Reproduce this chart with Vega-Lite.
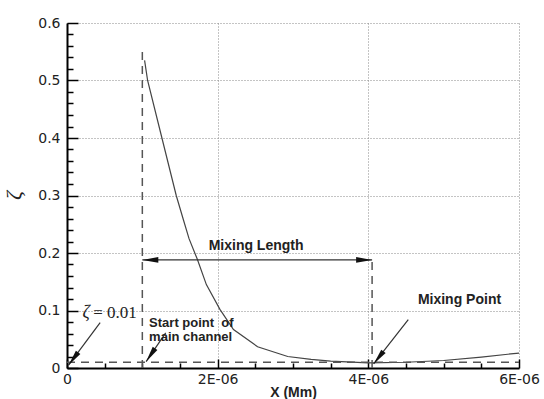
{
  "$schema": "https://vega.github.io/schema/vega-lite/v6.json",
  "width": 452,
  "height": 345,
  "autosize": "none",
  "padding": {"left": 67, "top": 23, "right": 25, "bottom": 31},
  "background": "white",
  "config": {"view": {"stroke": null}},
  "datasets": {
    "curve": [
      {"x": 0.00000103, "y": 0.535},
      {"x": 0.00000107, "y": 0.5},
      {"x": 0.00000126, "y": 0.4},
      {"x": 0.00000145, "y": 0.3},
      {"x": 0.00000154, "y": 0.26},
      {"x": 0.00000162, "y": 0.225},
      {"x": 0.00000173, "y": 0.189},
      {"x": 0.00000185, "y": 0.145},
      {"x": 0.00000203, "y": 0.102},
      {"x": 0.00000221, "y": 0.067},
      {"x": 0.00000253, "y": 0.037},
      {"x": 0.00000293, "y": 0.02},
      {"x": 0.00000324, "y": 0.015},
      {"x": 0.0000035, "y": 0.012},
      {"x": 0.000004, "y": 0.009},
      {"x": 0.0000045, "y": 0.01},
      {"x": 0.000005, "y": 0.013},
      {"x": 0.0000055, "y": 0.019},
      {"x": 0.000006, "y": 0.026}
    ],
    "dashed": [
      {"x": 0.000001, "x2": 0.000001, "y": 0, "y2": 0.55},
      {"x": 0.00000405, "x2": 0.00000405, "y": 0, "y2": 0.19},
      {"x": 0, "x2": 0.000006, "y": 0.01, "y2": 0.01}
    ],
    "arrows": [
      {"x": 0.000001, "x2": 0.00000405, "y": 0.188, "y2": 0.188},
      {"x": 0.00000044, "x2": 0.00000002, "y": 0.079, "y2": 0.005},
      {"x": 0.00000131, "x2": 0.00000105, "y": 0.061, "y2": 0.011},
      {"x": 0.00000453, "x2": 0.00000407, "y": 0.084, "y2": 0.007}
    ],
    "labels": [
      {"label": "Mixing Length", "x": 0.00000251, "y": 0.212},
      {"label": "Mixing Point", "x": 0.00000521, "y": 0.119}
    ],
    "labelsLeft": [
      {"label": "Start point\u00a0 of", "x": 0.00000109, "y": 0.078},
      {"label": "main channel", "x": 0.00000109, "y": 0.054}
    ]
  },
  "layer": [
    {
      "data": {"name": "curve"},
      "mark": {"type": "line", "color": "#444", "strokeWidth": 1.2},
      "encoding": {
        "x": {
          "field": "x", "type": "quantitative",
          "scale": {"domain": [0, 0.000006], "nice": false, "zero": false},
          "axis": {
            "title": "X (Mm)",
            "tickCount": 200,
            "values": [0, 0.0000005, 0.000001, 0.0000015, 0.000002, 0.0000025, 0.000003, 0.0000035, 0.000004, 0.0000045, 0.000005, 0.0000055, 0.000006],
            "labelExpr": "abs(datum.value/2e-6 - round(datum.value/2e-6)) < 1e-3 ? (datum.value == 0 ? '0' : format(datum.value*1e6, '.0f') + 'E-06') : ''",
            "tickSize": {"condition": {"test": "abs(datum.value/2e-6 - round(datum.value/2e-6)) < 1e-3", "value": -9}, "value": -5},
            "gridOpacity": {"condition": {"test": "abs(datum.value/2e-6 - round(datum.value/2e-6)) < 1e-3", "value": 1}, "value": 0},
            "grid": true,
            "gridColor": "#888",
            "gridDash": [1, 2],
            "tickColor": "#000",
            "tickWidth": 1.5,
            "domainColor": "#000",
            "domainWidth": 2,
            "labelFont": "DejaVu Sans",
            "labelFontSize": 14,
            "labelColor": "#222",
            "labelPadding": 13,
            "labelFlush": false,
            "labelOverlap": false,
            "titleFont": "Liberation Sans",
            "titleFontWeight": "bold",
            "titleFontSize": 14,
            "titleColor": "#222",
            "titleY": 28,
            "titleBaseline": "alphabetic"
          }
        },
        "y": {
          "field": "y", "type": "quantitative",
          "scale": {"domain": [0, 0.6], "nice": false, "zero": false},
          "axis": {
            "title": "ζ",
            "tickCount": 200,
            "values": [0, 0.02, 0.04, 0.06, 0.08, 0.1, 0.12, 0.14, 0.16, 0.18, 0.2, 0.22, 0.24, 0.26, 0.28, 0.3, 0.32, 0.34, 0.36, 0.38, 0.4, 0.42, 0.44, 0.46, 0.48, 0.5, 0.52, 0.54, 0.56, 0.58, 0.6],
            "labelExpr": "abs(datum.value*10 - round(datum.value*10)) < 1e-3 ? format(datum.value, '.1~f') : ''",
            "tickSize": {"condition": {"test": "abs(datum.value*10 - round(datum.value*10)) < 1e-3", "value": -11}, "value": -6},
            "gridOpacity": {"condition": {"test": "abs(datum.value*10 - round(datum.value*10)) < 1e-3", "value": 1}, "value": 0},
            "grid": true,
            "gridColor": "#888",
            "gridDash": [1, 2],
            "tickColor": "#000",
            "tickWidth": 1.5,
            "domainColor": "#000",
            "domainWidth": 2,
            "labelFont": "DejaVu Sans",
            "labelFontSize": 14,
            "labelColor": "#222",
            "labelPadding": 18,
            "labelFlush": false,
            "labelOverlap": false,
            "titleFont": "Liberation Serif",
            "titleFontStyle": "italic",
            "titleFontWeight": "normal",
            "titleFontSize": 22,
            "titleColor": "#222",
            "titleX": -54,
            "titleY": 172,
            "titleAngle": 270,
            "titleAlign": "center",
            "titleBaseline": "middle"
          }
        }
      }
    },
    {
      "data": {"name": "dashed"},
      "mark": {"type": "rule", "color": "#555", "strokeWidth": 1.5, "strokeDash": [8, 6]},
      "encoding": {
        "x": {"field": "x", "type": "quantitative"},
        "x2": {"field": "x2"},
        "y": {"field": "y", "type": "quantitative"},
        "y2": {"field": "y2"}
      }
    },
    {
      "data": {"name": "arrows"},
      "mark": {"type": "rule", "color": "#333", "strokeWidth": 1.2},
      "encoding": {
        "x": {"field": "x", "type": "quantitative"},
        "x2": {"field": "x2"},
        "y": {"field": "y", "type": "quantitative"},
        "y2": {"field": "y2"}
      }
    },
    {
      "data": {"values": [{"x": 0.00000405, "y": 0.188}]},
      "mark": {"type": "point", "shape": "M0,0L0.35,2L-0.35,2Z", "filled": true, "color": "#111", "opacity": 1, "size": 256, "angle": 90},
      "encoding": {"x": {"field": "x", "type": "quantitative"}, "y": {"field": "y", "type": "quantitative"}}
    },
    {
      "data": {"values": [{"x": 0.000001, "y": 0.188}]},
      "mark": {"type": "point", "shape": "M0,0L0.35,2L-0.35,2Z", "filled": true, "color": "#111", "opacity": 1, "size": 256, "angle": 270},
      "encoding": {"x": {"field": "x", "type": "quantitative"}, "y": {"field": "y", "type": "quantitative"}}
    },
    {
      "data": {"values": [{"x": 0.00000002, "y": 0.005}]},
      "mark": {"type": "point", "shape": "M0,0L0.35,2L-0.35,2Z", "filled": true, "color": "#111", "opacity": 1, "size": 256, "angle": 217},
      "encoding": {"x": {"field": "x", "type": "quantitative"}, "y": {"field": "y", "type": "quantitative"}}
    },
    {
      "data": {"values": [{"x": 0.00000105, "y": 0.011}]},
      "mark": {"type": "point", "shape": "M0,0L0.35,2L-0.35,2Z", "filled": true, "color": "#111", "opacity": 1, "size": 256, "angle": 214},
      "encoding": {"x": {"field": "x", "type": "quantitative"}, "y": {"field": "y", "type": "quantitative"}}
    },
    {
      "data": {"values": [{"x": 0.00000407, "y": 0.007}]},
      "mark": {"type": "point", "shape": "M0,0L0.35,2L-0.35,2Z", "filled": true, "color": "#111", "opacity": 1, "size": 256, "angle": 218},
      "encoding": {"x": {"field": "x", "type": "quantitative"}, "y": {"field": "y", "type": "quantitative"}}
    },
    {
      "data": {"name": "labels"},
      "mark": {"type": "text", "font": "Liberation Sans", "fontWeight": "bold", "fontSize": 14, "color": "#222", "align": "center", "baseline": "middle"},
      "encoding": {
        "x": {"field": "x", "type": "quantitative"},
        "y": {"field": "y", "type": "quantitative"},
        "text": {"field": "label"}
      }
    },
    {
      "data": {"name": "labelsLeft"},
      "mark": {"type": "text", "font": "Liberation Sans", "fontWeight": "bold", "fontSize": 13, "color": "#222", "align": "left", "baseline": "middle"},
      "encoding": {
        "x": {"field": "x", "type": "quantitative"},
        "y": {"field": "y", "type": "quantitative"},
        "text": {"field": "label"}
      }
    },
    {
      "data": {"values": [{"label": "ζ", "x": 0.000000253, "y": 0.096}]},
      "mark": {"type": "text", "font": "Liberation Serif", "fontStyle": "italic", "fontSize": 18, "color": "#222", "align": "center", "baseline": "middle"},
      "encoding": {
        "x": {"field": "x", "type": "quantitative"},
        "y": {"field": "y", "type": "quantitative"},
        "text": {"field": "label"}
      }
    },
    {
      "data": {"values": [{"label": "= 0.01", "x": 0.000000347, "y": 0.096}]},
      "mark": {"type": "text", "font": "Liberation Serif", "fontSize": 17, "color": "#222", "align": "left", "baseline": "middle"},
      "encoding": {
        "x": {"field": "x", "type": "quantitative"},
        "y": {"field": "y", "type": "quantitative"},
        "text": {"field": "label"}
      }
    }
  ]
}
